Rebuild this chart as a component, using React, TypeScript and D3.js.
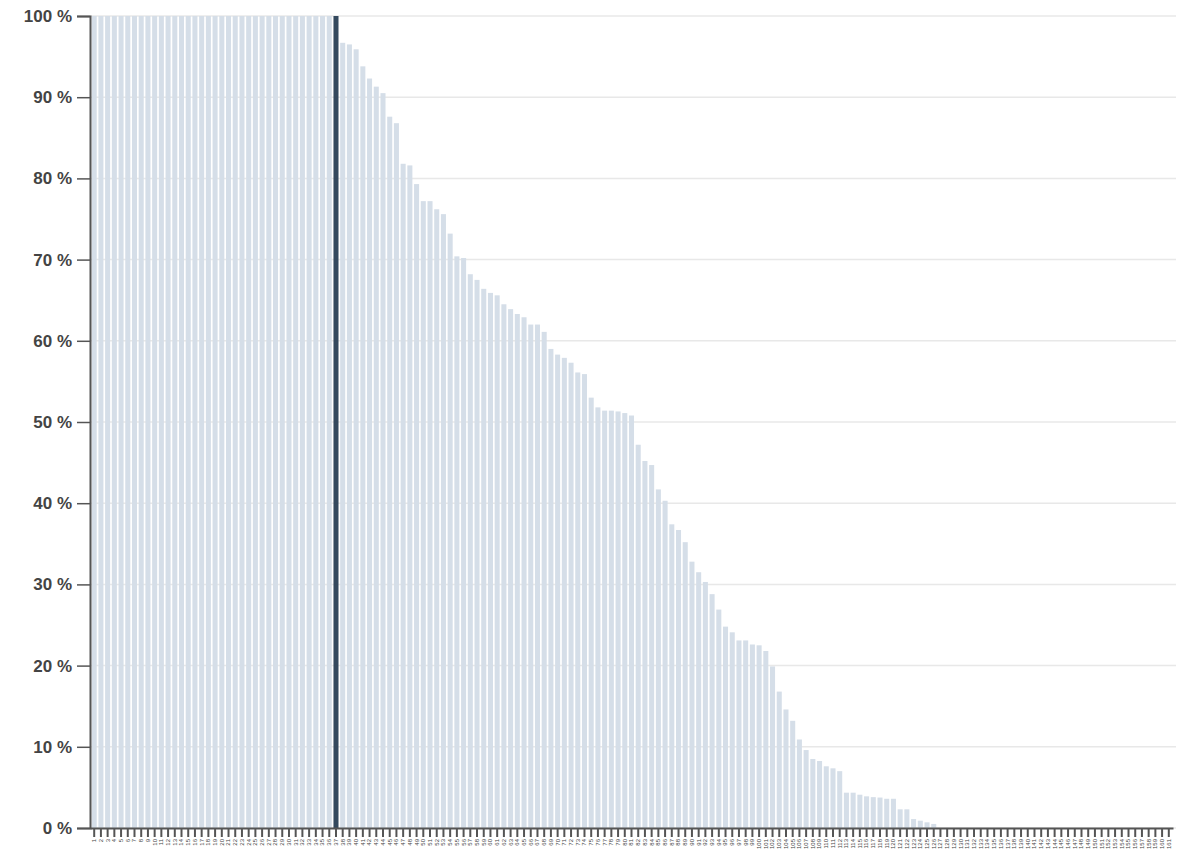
import { useEffect, useRef } from 'react';
import * as d3 from 'd3';

// categories are plain rank numbers 1..161
const categories: string[] = [
  '1', '2', '3', '4', '5', '6', '7', '8', '9', '10', '11', '12', '13', '14', '15', '16', '17', '18', '19', '20',
  '21', '22', '23', '24', '25', '26', '27', '28', '29', '30', '31', '32', '33', '34', '35', '36', '37', '38', '39', '40',
  '41', '42', '43', '44', '45', '46', '47', '48', '49', '50', '51', '52', '53', '54', '55', '56', '57', '58', '59', '60',
  '61', '62', '63', '64', '65', '66', '67', '68', '69', '70', '71', '72', '73', '74', '75', '76', '77', '78', '79', '80',
  '81', '82', '83', '84', '85', '86', '87', '88', '89', '90', '91', '92', '93', '94', '95', '96', '97', '98', '99', '100',
  '101', '102', '103', '104', '105', '106', '107', '108', '109', '110', '111', '112', '113', '114', '115', '116', '117', '118', '119', '120',
  '121', '122', '123', '124', '125', '126', '127', '128', '129', '130', '131', '132', '133', '134', '135', '136', '137', '138', '139', '140',
  '141', '142', '143', '144', '145', '146', '147', '148', '149', '150', '151', '152', '153', '154', '155', '156', '157', '158', '159', '160',
  '161',
];

// share in percent
const values: number[] = [
  100, 100, 100, 100, 100, 100, 100, 100, 100, 100, 100, 100, 100, 100, 100, 100, 100, 100, 100, 100,
  100, 100, 100, 100, 100, 100, 100, 100, 100, 100, 100, 100, 100, 100, 100, 100, 100,
  96.7, 96.5, 95.9, 93.8, 92.3, 91.3, 90.5, 87.6, 86.8,
  81.8, 81.6, 79.3, 77.2, 77.2, 76.2, 75.6,
  73.2, 70.4, 70.2, 68.2, 67.5, 66.4, 65.9, 65.6,
  64.5, 63.9, 63.3, 62.9, 62.0, 62.0, 61.1, 59.0, 58.3, 57.9, 57.3, 56.1, 55.9, 53.0, 51.8, 51.4, 51.4, 51.3, 51.1, 50.8, 47.2,
  45.2, 44.7, 41.7, 40.3, 37.4, 36.7, 35.2, 32.8, 31.5,
  30.3, 28.8, 26.9, 24.8, 24.1, 23.1, 23.1, 22.6, 22.5, 21.8, 19.9, 16.8, 14.6, 13.2, 10.9, 9.6, 8.5, 8.25, 7.6, 7.35, 7.0,
  4.35, 4.35, 4.1, 3.9, 3.8, 3.75, 3.6, 3.6, 2.3, 2.3, 1.1, 0.9, 0.7, 0.5,
  0, 0, 0, 0, 0, 0, 0, 0, 0, 0, 0, 0, 0, 0, 0, 0, 0, 0, 0, 0,
  0, 0, 0, 0, 0, 0, 0, 0, 0, 0, 0, 0, 0, 0, 0,
];

const highlighted = '37';
const yTicks: number[] = [0, 10, 20, 30, 40, 50, 60, 70, 80, 90, 100];

const App = () => {
  const containerRef = useRef<HTMLDivElement | null>(null);

  useEffect(() => {
    if (!containerRef.current) return;
    containerRef.current.innerHTML = '';

    const width = 1178;
    const height = 852;
    const left = 90;
    const right = 1173;
    const top = 16;
    const bottom = 828;
    const axis = '#555';

    const x = d3.scaleBand<string>().domain(categories).range([left, right]).paddingInner(0.25).paddingOuter(0.25);
    const y = d3.scaleLinear().domain([0, 100]).range([bottom, top]);

    const svg = d3
      .create('svg')
      .attr('width', width)
      .attr('height', height)
      .attr('viewBox', [0, 0, width, height])
      .attr('font-family', '"Liberation Sans", Arial, sans-serif');

    // grid
    svg
      .append('g')
      .selectAll('line')
      .data(yTicks)
      .join('line')
      .attr('x1', left)
      .attr('x2', 1176)
      .attr('y1', d => y(d))
      .attr('y2', d => y(d))
      .attr('stroke', '#e8e8e8')
      .attr('stroke-width', 1.5);

    // bars
    svg
      .append('g')
      .selectAll('rect')
      .data(categories)
      .join('rect')
      .attr('x', d => x(d) as number)
      .attr('width', x.bandwidth())
      .attr('y', (_, i) => y(values[i]))
      .attr('height', (_, i) => y(0) - y(values[i]))
      .attr('fill', d => (d === highlighted ? '#34495e' : '#d5dee8'));

    // y axis
    svg
      .append('g')
      .attr('transform', `translate(${left},0)`)
      .call(
        d3
          .axisLeft(y)
          .tickValues(yTicks)
          .tickSize(13)
          .tickPadding(5)
          .tickFormat(d => `${d} %`),
      )
      .call(g => g.selectAll('.tick line').attr('stroke', axis).attr('stroke-width', 1.5))
      .call(g => g.select('.domain').attr('stroke', axis).attr('stroke-width', 2))
      .call(g =>
        g
          .selectAll('.tick text')
          .attr('fill', '#444')
          .attr('font-size', 17)
          .attr('font-weight', 'bold')
          .attr('font-family', '"Liberation Sans", Arial, sans-serif'),
      );

    // x axis
    svg
      .append('g')
      .attr('transform', `translate(0,${bottom})`)
      .call(d3.axisBottom(x).tickSize(9).tickSizeOuter(0).tickPadding(2))
      .call(g => g.select('.domain').attr('stroke', axis).attr('stroke-width', 2))
      .call(g => g.selectAll('.tick line').attr('stroke', axis).attr('stroke-width', 2))
      .call(g =>
        g
          .selectAll('.tick text')
          .attr('fill', '#444')
          .attr('font-size', 6)
          .attr('text-anchor', 'end')
          .attr('transform', 'rotate(-90)')
          .attr('x', -11)
          .attr('y', 0)
          .attr('dy', '0.32em'),
      );

    containerRef.current.append(svg.node() as Node);
  }, []);

  return <div ref={containerRef} style={{ position: 'absolute', left: 0, top: 0 }} />;
};

export default App;
